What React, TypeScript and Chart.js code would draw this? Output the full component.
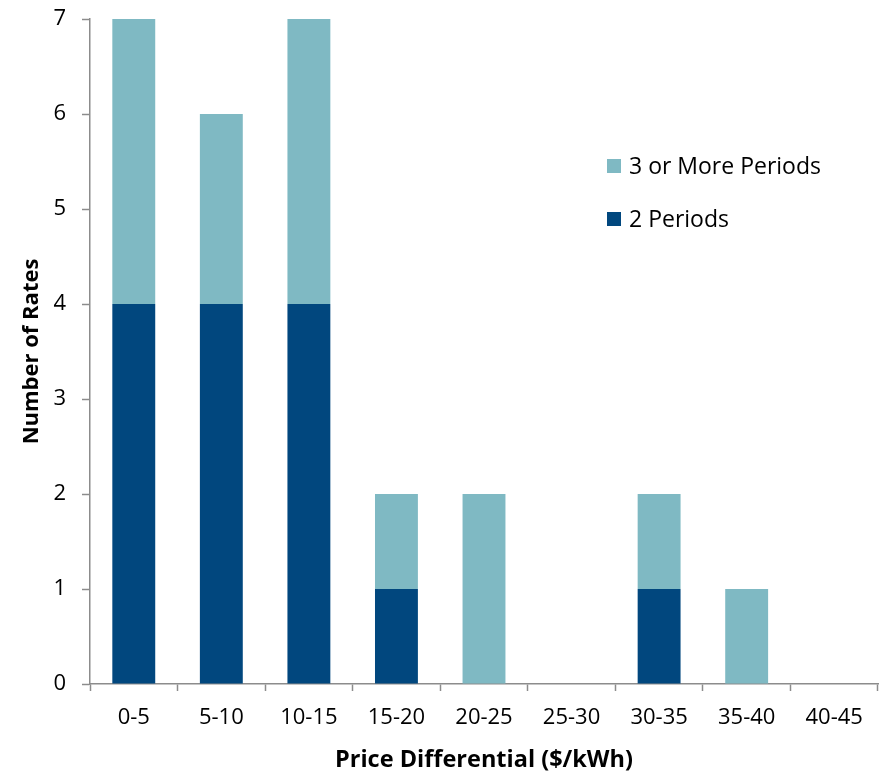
import React, { useEffect, useRef } from "react";
import { Chart, registerables } from "chart.js";

Chart.register(...registerables);

const categories = ["0-5", "5-10", "10-15", "15-20", "20-25", "25-30", "30-35", "35-40", "40-45"];
const twoPeriods = [4, 4, 4, 1, 0, 0, 1, 0, 0];
const threeOrMorePeriods = [3, 2, 3, 1, 2, 0, 1, 1, 0];
const yTicks = [0, 1, 2, 3, 4, 5, 6, 7];

const DARK = "#01477E";
const LIGHT = "#7FB9C3";
const AXIS = "#8C8C8C";
const FONT = "'Open Sans', Lato, sans-serif";
const SIZE = 22;

// Legend drawn inside the plot, listed top-down in reverse dataset order.
const insideLegend = {
  id: "insideLegend",
  afterDraw(chart: any) {
    const ctx = chart.ctx;
    const sets = [...chart.data.datasets].reverse();
    ctx.save();
    ctx.font = `23px ${FONT}`;
    ctx.textBaseline = "middle";
    ctx.textAlign = "left";
    sets.forEach((ds: any, i: number) => {
      const cy = 166 + i * 53;
      ctx.fillStyle = ds.backgroundColor;
      ctx.fillRect(607, cy - 7, 14, 14);
      ctx.fillStyle = "#000";
      ctx.fillText(ds.label, 629, cy + 1);
    });
    ctx.restore();
  },
};

export default function App() {
  const ref = useRef<HTMLCanvasElement>(null);

  useEffect(() => {
    document.body.style.margin = "0";
    const chart = new Chart(ref.current!, {
      type: "bar",
      data: {
        labels: categories,
        datasets: [
          { label: "2 Periods", data: twoPeriods, backgroundColor: DARK },
          { label: "3 or More Periods", data: threeOrMorePeriods, backgroundColor: LIGHT },
        ],
      },
      options: {
        animation: false,
        responsive: false,
        devicePixelRatio: 1,
        layout: { padding: { top: 19, right: 3, bottom: 0, left: 0 } },
        datasets: { bar: { barPercentage: 0.49, categoryPercentage: 1 } },
        plugins: { legend: { display: false }, tooltip: { enabled: false } },
        scales: {
          x: {
            stacked: true,
            grid: {
              offset: true,
              drawOnChartArea: false,
              drawTicks: true,
              tickLength: 7,
              tickColor: AXIS,
              tickWidth: 1.5,
            },
            border: { display: true, color: AXIS, width: 1.5 },
            ticks: { color: "#000", font: { family: FONT, size: SIZE }, padding: 14, maxRotation: 0 },
            title: {
              display: true,
              text: "Price Differential ($/kWh)",
              color: "#000",
              font: { family: FONT, size: 23.5, weight: "bold" },
              padding: { top: 0, bottom: -3 },
            },
            afterFit: (s: any) => {
              s.height = 771 - 684;
              s.paddingLeft = 0;
              s.paddingRight = 0;
            },
          },
          y: {
            stacked: true,
            min: 0,
            max: 7,
            afterBuildTicks: (s: any) => {
              s.ticks = yTicks.map((v) => ({ value: v }));
            },
            grid: {
              drawOnChartArea: false,
              drawTicks: true,
              tickLength: 8,
              tickColor: AXIS,
              tickWidth: 1.5,
            },
            border: { display: true, color: AXIS, width: 1.5 },
            ticks: { color: "#000", font: { family: FONT, size: SIZE }, padding: 16 },
            title: {
              display: true,
              text: "Number of Rates",
              color: "#000",
              font: { family: FONT, size: SIZE, weight: "bold" },
              padding: { top: 19, bottom: 0 },
            },
            afterFit: (s: any) => {
              s.width = 90;
              s.paddingTop = 0;
              s.paddingBottom = 0;
            },
          },
        },
      },
      plugins: [insideLegend],
    });
    return () => chart.destroy();
  }, []);

  return (
    <div style={{ position: "absolute", left: 0, top: 0, width: 881, height: 771, background: "#fff" }}>
      <canvas ref={ref} width={881} height={771} />
    </div>
  );
}
